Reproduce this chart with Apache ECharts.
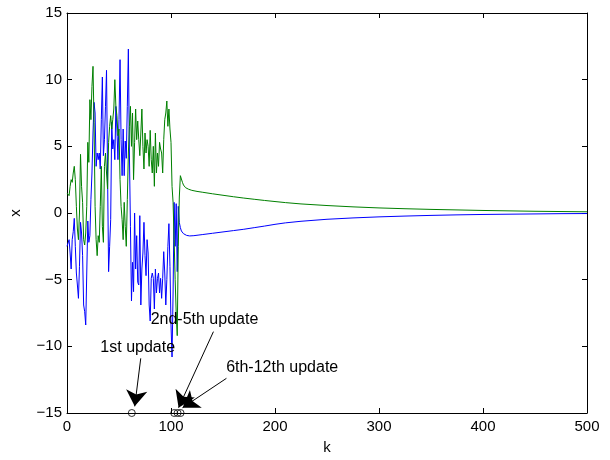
<!DOCTYPE html>
<html>
<head>
<meta charset="utf-8">
<script src="https://cdn.jsdelivr.net/npm/echarts@6/dist/echarts.min.js"></script>
<style>html,body{margin:0;padding:0;background:#fff}#c{width:610px;height:460px}</style>
</head>
<body>
<div id="c"></div>
<script>
// ---- data ----
// noisy phase, one value per k = 0..108
const greenNoisy = [1.5,1.5,1.3,2.0,2.5,2.3,3.0,3.5,2.5,0.5,
-1.2,-2.0,0.0,4.4,2.0,0.8,-2.0,-2.4,-1.5,0.5,
5.3,3.8,8.5,7.0,9.5,11.0,6.8,0.5,-2.0,-3.2,
-1.7,-2.2,0.5,3.5,-1.0,-2.2,3.5,4.5,3.0,1.8,
5.3,6.5,7.3,6.3,7.0,7.8,10.0,8.0,7.3,5.8,
6.3,2.5,0.5,-0.5,-2.0,0.8,-1.0,-2.5,1.0,4.5,
6.5,8.0,5.0,7.5,2.5,5.3,7.8,5.5,6.9,5.5,
4.3,6.0,7.8,5.0,3.3,6.0,4.5,5.5,5.0,3.5,
6.2,4.0,3.0,5.0,2.0,6.0,3.0,4.5,3.5,5.3,
4.8,4.5,3.0,5.5,7.0,7.5,8.4,6.5,7.8,6.3,
5.3,2.0,0.8,-2.0,-5.0,-7.5,-9.2,-2.5,1.2];
const blueNoisy = [-2.5,-2.6,-2.0,-3.0,-4.2,-2.0,-1.4,-0.4,-2.5,-4.5,
-5.4,-6.4,-4.0,-0.7,-1.5,-3.2,-6.9,-7.4,-8.4,-4.5,
-0.6,-2.2,-1.7,1.0,3.0,6.0,8.3,7.5,3.5,4.5,
4.0,4.5,3.3,7.0,10.2,4.3,5.5,8.0,10.7,3.0,
-4.4,-2.5,-0.5,6.8,4.8,5.5,4.0,8.0,6.3,4.0,
7.0,11.5,5.5,2.8,6.3,2.8,5.4,4.1,8.0,12.3,
4.5,-1.0,-6.6,-3.7,-5.9,0.0,-4.2,-1.7,-5.2,-5.4,
-0.2,-6.9,-4.2,-3.0,-0.7,-3.2,-4.7,-2.0,-3.0,-6.9,
-8.1,-4.9,-4.5,-4.9,-7.2,-4.2,-6.0,-4.9,-4.5,-6.0,
-4.9,-6.4,-4.9,-2.9,-4.5,-6.9,-5.0,-2.5,-0.8,-4.0,
-8.4,-10.8,-6.0,0.8,-2.5,0.7,-4.4,0.5,-0.7];
// settled phase
const greenTailK = [109,110,111,112,114,117,120,125,130,140,150,160,170,180,190,200,210,225,250,275,300,325,350,375,400,425,450,475,500];
const greenTail  = [2.8,2.55,2.3,2.1,1.9,1.78,1.7,1.62,1.56,1.44,1.33,1.22,1.12,1.03,0.94,0.86,0.78,0.68,0.56,0.46,0.38,0.32,0.27,0.23,0.19,0.16,0.13,0.11,0.09];
const blueTailK = [109,110,112,115,118,122,126,130,140,150,160,170,180,190,200,210,225,250,275,300,325,350,375,400,425,450,475,500];
const blueTail  = [-1.1,-1.35,-1.55,-1.68,-1.72,-1.7,-1.66,-1.62,-1.52,-1.42,-1.32,-1.22,-1.1,-0.98,-0.85,-0.74,-0.62,-0.47,-0.37,-0.29,-0.23,-0.18,-0.14,-0.11,-0.09,-0.07,-0.05,-0.04];
// update instants (markers on bottom axis)
const updateK = [62.3, 103.1, 106.3, 109.2];
// annotations: text, text anchor [k, x], arrow start [k, x], arrow tip [k, x]
const annText  = ['1st update', '2nd-5th update', '6th-12th update'];
const annPos   = [[68.0, -10.1], [132.2, -8.0], [206.9, -11.6]];
const arrFrom  = [[70.9, -10.9], [140.8, -8.9], [153.3, -12.4]];
const arrTo    = [[65.1, -14.5], [107.3, -14.6], [111.1, -14.6]];
const xTicks = [0, 500, 100];
const yTicks = [-15, 15, 5];

// ---- chart ----
const FONT = 'Liberation Sans, Arial, Helvetica, sans-serif';
const chart = echarts.init(document.getElementById('c'));
const greenData = greenNoisy.map((v, i) => [i, v]).concat(greenTailK.map((k, i) => [k, greenTail[i]]));
const blueData = blueNoisy.map((v, i) => [i, v]).concat(blueTailK.map((k, i) => [k, blueTail[i]]));
const fmt = v => (v < 0 ? '\u2212' + Math.abs(v) : String(v));
const axisCommon = () => ({
  axisLine: { show: true, onZero: false, lineStyle: { color: '#000', width: 1 } },
  axisTick: { show: true, inside: true, length: 5, lineStyle: { color: '#000' } },
  splitLine: { show: false }
});
chart.setOption({
  animation: false,
  backgroundColor: '#fff',
  grid: { left: 65, right: 23, top: 13, bottom: 45, containLabel: false },
  xAxis: [
    Object.assign({ type: 'value', min: xTicks[0], max: xTicks[1], interval: xTicks[2], position: 'bottom',
      name: 'k', nameLocation: 'middle', nameGap: 27,
      nameTextStyle: { fontFamily: FONT, fontSize: 15, color: '#000' },
      axisLabel: { fontFamily: FONT, fontSize: 15, color: '#000', margin: 6, formatter: fmt } }, axisCommon()),
    Object.assign({ type: 'value', min: xTicks[0], max: xTicks[1], interval: xTicks[2], position: 'top',
      axisLabel: { show: false } }, axisCommon())
  ],
  yAxis: [
    Object.assign({ type: 'value', min: yTicks[0], max: yTicks[1], interval: yTicks[2], position: 'left',
      name: 'x', nameLocation: 'middle', nameGap: 44,
      nameTextStyle: { fontFamily: FONT, fontSize: 15, color: '#000' },
      axisLabel: { fontFamily: FONT, fontSize: 15, color: '#000', margin: 5, formatter: fmt } }, axisCommon()),
    Object.assign({ type: 'value', min: yTicks[0], max: yTicks[1], interval: yTicks[2], position: 'right',
      axisLabel: { show: false } }, axisCommon())
  ],
  series: [
    { type: 'line', data: blueData, showSymbol: false, symbol: 'none',
      lineStyle: { color: '#0000ff', width: 1 }, itemStyle: { color: '#0000ff' } },
    { type: 'line', data: greenData, showSymbol: false, symbol: 'none',
      lineStyle: { color: '#008000', width: 1 }, itemStyle: { color: '#008000' } },
    { type: 'scatter', data: updateK.map(k => [k, yTicks[0]]), symbol: 'circle', symbolSize: 7,
      clip: false, itemStyle: { color: 'rgba(0,0,0,0)', borderColor: '#000', borderWidth: 1 }, z: 5 },
    { type: 'lines', coordinateSystem: 'cartesian2d', symbol: ['none', 'arrow'], symbolSize: [11, 16],
      lineStyle: { color: '#000', width: 1, opacity: 1 }, z: 6,
      data: arrFrom.map((p, i) => ({ coords: [p, arrTo[i]] })) }
  ]
});
const g = annText.map((t, i) => {
  const p = chart.convertToPixel({ gridIndex: 0 }, annPos[i]);
  return { type: 'text', x: p[0], y: p[1], z: 10,
    style: { text: t, textAlign: 'center', textVerticalAlign: 'middle', font: '16px ' + FONT, fill: '#000' } };
});
chart.setOption({ graphic: g });
</script>
</body>
</html>
